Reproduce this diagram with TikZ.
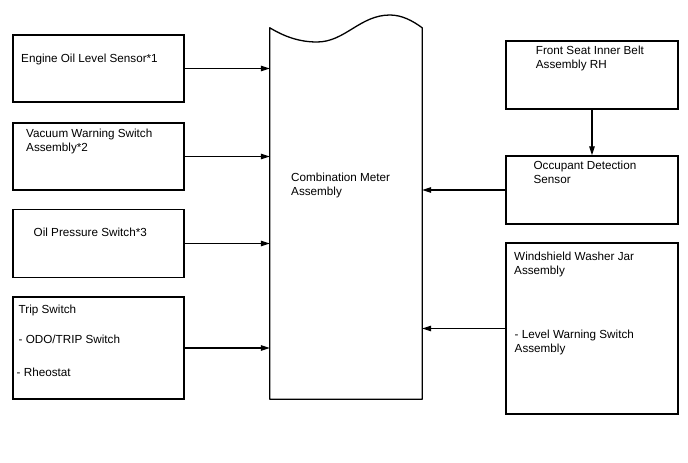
\documentclass[tikz,border=0pt]{standalone}
\usepackage{fontspec}
\setmainfont{Liberation Sans}
\usetikzlibrary{arrows.meta}
\tikzset{
  kotak/.style={draw,line width=1.3pt,inner sep=0pt,minimum width=171pt},
  tulisan/.style={anchor=base west,inner sep=0pt,align=left,
    font=\fontsize{11.7}{14.2}\selectfont},
  panah/.style={line width=1.1pt,-{Triangle[length=9pt,width=5.5pt]}}
}

\begin{document}
\begin{tikzpicture}[x=1pt,y=-1pt]
  \useasboundingbox (0,0) rectangle (688,463);

  % blok kiri
  \node[kotak,minimum height=67pt]  (eng)  at (98.5,68.5) {};
  \node[kotak,minimum height=67pt]  (vac)  at (98.5,156.5) {};
  \node[kotak,minimum height=68pt]  (oilp) at (98.5,243.5) {};
  \node[kotak,minimum height=102pt] (trip) at (98.5,348) {};

  % blok tengah
  \node[minimum width=152pt,minimum height=371pt,inner sep=0pt] (meter) at (346,213.5) {};
  \coordinate (lembah) at (317,42);
  \coordinate (puncak) at (390,15);
  \draw[line width=1.3pt,line join=round]
    (meter.north west) .. controls (285,37) and (300,42) .. (lembah)
    .. controls (345,42) and (360,15) .. (puncak)
    .. controls (402,15) and (413,21) .. (meter.north east)
    -- (meter.south east) -- (meter.south west) -- cycle;

  % blok kanan
  \node[kotak,minimum width=172pt,minimum height=68pt]  (belt) at (592,75) {};
  \node[kotak,minimum width=172pt,minimum height=68pt]  (occ)  at (592,190) {};
  \node[kotak,minimum width=172pt,minimum height=171pt] (jar)  at (592,328.5) {};

  % tulisan (baseline baris terakhir)
  \node[tulisan] (t-eng)  at (21,62.5)    {Engine Oil Level Sensor*1};
  \node[tulisan] (t-vac)  at (26,151.7)   {Vacuum Warning Switch\\Assembly*2};
  \node[tulisan] (t-oilp) at (33.5,236.5) {Oil Pressure Switch*3};
  \node[tulisan] (t-trip) at (18.5,313)   {Trip Switch};
  \node[tulisan] (t-odo)  at (18.5,343.5) {- ODO/TRIP Switch};
  \node[tulisan] (t-rheo) at (16.5,376.5) {- Rheostat};
  \node[tulisan] (t-met)  at (291,195.7)  {Combination Meter\\Assembly};
  \node[tulisan] (t-belt) at (535.7,68.4) {Front Seat Inner Belt\\Assembly RH};
  \node[tulisan] (t-occ)  at (533.4,183.4) {Occupant Detection\\Sensor};
  \node[tulisan] (t-jar)  at (514,274.4)  {Windshield Washer Jar\\Assembly};
  \node[tulisan] (t-lvl)  at (514.5,352.4) {- Level Warning Switch\\Assembly};

  % panah
  \foreach \b in {eng,vac,oilp,trip}
    \draw[panah] (\b.east) -- (\b.east -| meter.west);
  \foreach \b in {occ,jar}
    \draw[panah] (\b.west) -- (\b.west -| meter.east);
  \draw[panah] (belt.south) -- (occ.north);
\end{tikzpicture}
\end{document}
